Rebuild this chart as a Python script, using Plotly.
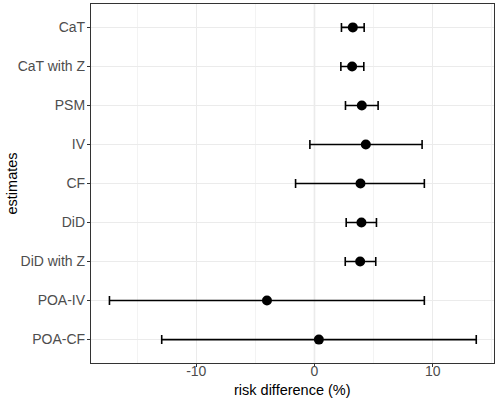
import plotly.graph_objects as go

estimates = ["CaT", "CaT with Z", "PSM", "IV", "CF", "DiD", "DiD with Z", "POA-IV", "POA-CF"]
point = [3.24, 3.18, 4.0, 4.34, 3.89, 3.97, 3.86, -4.02, 0.37]
lower = [2.28, 2.23, 2.62, -0.39, -1.6, 2.68, 2.6, -17.34, -12.92]
upper = [4.2, 4.17, 5.38, 9.1, 9.29, 5.24, 5.18, 9.29, 13.68]

err_plus = [u - p for u, p in zip(upper, point)]
err_minus = [p - l for p, l in zip(point, lower)]

fig = go.Figure()
fig.add_trace(go.Scatter(
    x=point, y=estimates, mode="markers",
    marker=dict(color="black", size=10),
    error_x=dict(type="data", symmetric=False, array=err_plus, arrayminus=err_minus,
                 color="black", thickness=1.6, width=4.5),
    showlegend=False,
))
fig.add_vline(x=0, line=dict(color="#BEBEBE", width=1.2), layer="below")

fig.add_annotation(text="risk difference (%)", xref="paper", yref="paper",
                   x=0.5, y=0, yshift=-17, yanchor="top", showarrow=False,
                   font=dict(size=14.5, color="black"))
fig.add_annotation(text="estimates", xref="paper", yref="paper", textangle=-90,
                   x=0, xshift=-90, y=0.5, xanchor="left", showarrow=False,
                   font=dict(size=14.5, color="black"))

fig.update_layout(
    width=498, height=399,
    margin=dict(l=91, r=4, t=4, b=36, autoexpand=False),
    plot_bgcolor="white", paper_bgcolor="white",
    font=dict(family="Liberation Sans, Arial, sans-serif", color="black"),
    xaxis=dict(
        range=[-18.9, 15.18], tickvals=[-10, 0, 10], ticktext=["-10", "0", "10"],
        automargin=False,
        showgrid=True, gridcolor="#EBEBEB", gridwidth=1.2,
        minor=dict(tickvals=[-15, -5, 5, 15], showgrid=True, gridcolor="#F3F3F3", gridwidth=0.6),
        zeroline=False, showline=True, linecolor="#333333", linewidth=1.2, mirror=True,
        ticks="outside", ticklen=3, tickcolor="#333333", tickwidth=1,
        tickfont=dict(size=14, color="#4D4D4D"), ticklabelstandoff=-8,
    ),
    yaxis=dict(
        type="category", categoryorder="array", categoryarray=estimates,
        range=[8.6, -0.6], automargin=False,
        showgrid=True, gridcolor="#EBEBEB", gridwidth=1.2,
        zeroline=False, showline=True, linecolor="#333333", linewidth=1.2, mirror=True,
        ticks="outside", ticklen=3, tickcolor="#333333", tickwidth=1,
        tickfont=dict(size=14, color="#4D4D4D"), ticklabelstandoff=-1,
    ),
)

fig.write_html("out.html", config={"displayModeBar": False},
               post_script="document.body.style.margin='0px';")
